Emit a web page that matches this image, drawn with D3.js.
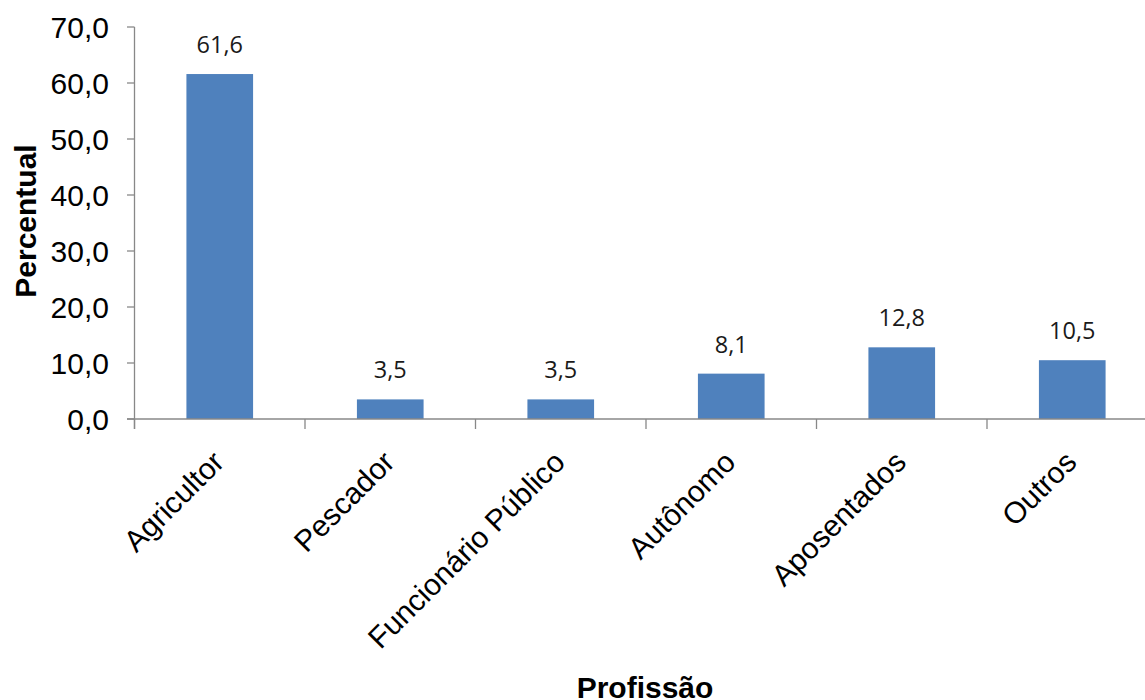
<!DOCTYPE html>
<html>
<head>
<meta charset="utf-8">
<script src="https://cdn.jsdelivr.net/npm/d3@7"></script>
<style>
  html, body { margin: 0; padding: 0; background: #fff; overflow: hidden; }
  svg { display: block; }
</style>
</head>
<body>
<svg id="chart" width="1145" height="700"></svg>
<script>
const categories = ["Agricultor", "Pescador", "Funcionário Público", "Autônomo", "Aposentados", "Outros"];
const values = [61.6, 3.5, 3.5, 8.1, 12.8, 10.5];
const yTicks = [0, 10, 20, 30, 40, 50, 60, 70];
const yTitle = "Percentual";
const xTitle = "Profissão";

const svg = d3.select("#chart");
const fmt = v => d3.format(".1f")(v).replace(".", ",");

const left = 134.5, step = 170.5;
const x = d3.scaleBand()
  .domain(categories)
  .range([left, left + step * categories.length])
  .paddingInner(0.609)
  .paddingOuter(0.3045);

const y = d3.scaleLinear().domain([0, 70]).range([419, 27]);

const axisColor = "#888888";

// bars
svg.append("g").selectAll("rect")
  .data(categories)
  .join("rect")
  .attr("x", d => x(d))
  .attr("width", x.bandwidth())
  .attr("y", (d, i) => y(values[i]))
  .attr("height", (d, i) => y(0) - y(values[i]))
  .attr("fill", "#4F81BD");

// y axis
const yAxis = svg.append("g");
yAxis.append("line")
  .attr("x1", left).attr("x2", left)
  .attr("y1", y(70)).attr("y2", y(0) + 10)
  .attr("stroke", axisColor).attr("stroke-width", 1.3);
yAxis.selectAll("line.tick")
  .data(yTicks)
  .join("line")
  .attr("class", "tick")
  .attr("x1", left - 7.5).attr("x2", left)
  .attr("y1", d => y(d)).attr("y2", d => y(d))
  .attr("stroke", axisColor).attr("stroke-width", 1.3);
yAxis.selectAll("text")
  .data(yTicks)
  .join("text")
  .attr("x", 109)
  .attr("y", d => y(d))
  .attr("dy", "0.36em")
  .attr("text-anchor", "end")
  .attr("font-family", "Liberation Sans, Arial, sans-serif")
  .attr("font-size", 30)
  .attr("fill", "#000")
  .text(fmt);

// x axis
const xAxis = svg.append("g");
const bounds = categories.map(c => x(c) + x.bandwidth() / 2 - x.step() / 2);
bounds.push(bounds[bounds.length - 1] + x.step());
xAxis.append("line")
  .attr("x1", left - 7.5).attr("x2", bounds[bounds.length - 1])
  .attr("y1", y(0)).attr("y2", y(0))
  .attr("stroke", axisColor).attr("stroke-width", 1.3);
xAxis.selectAll("line.tick")
  .data(bounds)
  .join("line")
  .attr("class", "tick")
  .attr("x1", d => d).attr("x2", d => d)
  .attr("y1", y(0)).attr("y2", y(0) + 10)
  .attr("stroke", axisColor).attr("stroke-width", 1.3);
xAxis.selectAll("text")
  .data(categories)
  .join("text")
  .attr("transform", d => `translate(${x(d) + x.bandwidth() / 2 + 6},${y(0) + 45}) rotate(-45)`)
  .attr("text-anchor", "end")
  .attr("font-family", "Liberation Sans, Arial, sans-serif")
  .attr("font-size", 30)
  .attr("fill", "#000")
  .text(d => d);

// value labels
svg.append("g").selectAll("text")
  .data(categories)
  .join("text")
  .attr("x", d => x(d) + x.bandwidth() / 2)
  .attr("y", (d, i) => y(values[i]) - 21)
  .attr("text-anchor", "middle")
  .attr("font-family", "Open Sans, Noto Sans, sans-serif")
  .attr("font-size", 23.5)
  .attr("fill", "#1a1a1a")
  .text((d, i) => fmt(values[i]));

// titles
svg.append("text")
  .attr("transform", `translate(36,${(y(0) + y(70)) / 2 - 2}) rotate(-90)`)
  .attr("text-anchor", "middle")
  .attr("font-family", "Liberation Sans, Arial, sans-serif")
  .attr("font-weight", "bold")
  .attr("font-size", 30)
  .attr("fill", "#000")
  .text(yTitle);

svg.append("text")
  .attr("x", (bounds[0] + bounds[bounds.length - 1]) / 2 - 1)
  .attr("y", 698)
  .attr("text-anchor", "middle")
  .attr("font-family", "Liberation Sans, Arial, sans-serif")
  .attr("font-weight", "bold")
  .attr("font-size", 30)
  .attr("fill", "#000")
  .text(xTitle);
</script>
</body>
</html>
